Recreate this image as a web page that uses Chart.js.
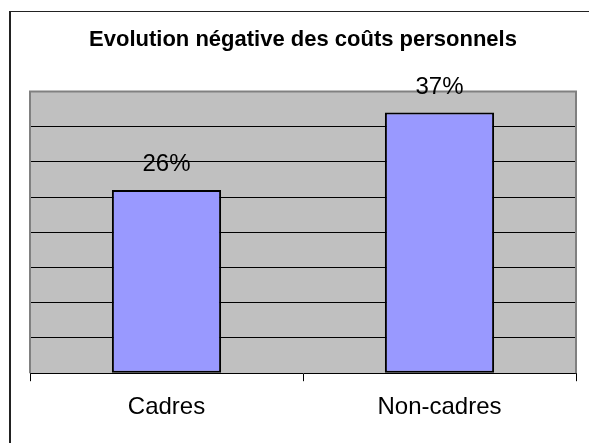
<!DOCTYPE html>
<html>
<head>
<meta charset="utf-8">
<script src="https://cdn.jsdelivr.net/npm/chart.js@4/dist/chart.umd.min.js"></script>
<style>
  html, body { margin: 0; padding: 0; background: #fff; overflow: hidden; }
  #frame { position: absolute; left: 9px; top: 11px; width: 700px; height: 600px;
           border-left: 2px solid #222; border-top: 1px solid #222; }
  #wrap { position: absolute; left: 0; top: 0; width: 589px; height: 443px; }
</style>
</head>
<body>
<div id="frame"></div>
<div id="wrap"><canvas id="chart"></canvas></div>
<script>
const categories = ['Cadres', 'Non-cadres']
const values = [0.26, 0.37]
const yTicks = [0, 0.05, 0.1, 0.15, 0.2, 0.25, 0.3, 0.35, 0.4]

Chart.defaults.font.family = "'Liberation Sans', Arial, sans-serif"
Chart.defaults.color = '#000'

// fond gris de la zone de tracé + bordure grise
const plotArea = {
    id: 'plotArea',
    beforeDraw(chart) {
        const { ctx, chartArea: a } = chart
        ctx.save()
        ctx.fillStyle = '#C0C0C0'
        ctx.fillRect(a.left, a.top, a.right - a.left, a.bottom - a.top)
        ctx.restore()
    },
    afterDraw(chart) {
        const { ctx, chartArea: a } = chart
        ctx.save()
        ctx.strokeStyle = '#808080'
        ctx.lineWidth = 2
        ctx.beginPath()
        ctx.moveTo(a.left, a.bottom)
        ctx.lineTo(a.left, a.top)
        ctx.lineTo(a.right, a.top)
        ctx.lineTo(a.right, a.bottom)
        ctx.stroke()
        ctx.restore()
    }
}

// étiquettes de valeur au-dessus des barres
const valueLabels = {
    id: 'valueLabels',
    afterDraw(chart) {
        const { ctx } = chart
        const meta = chart.getDatasetMeta(0)
        ctx.save()
        ctx.font = "24px 'Liberation Sans', Arial, sans-serif"
        ctx.fillStyle = '#000'
        ctx.textAlign = 'center'
        ctx.textBaseline = 'alphabetic'
        meta.data.forEach((bar, i) => {
            ctx.fillText(Math.round(values[i] * 100) + '%', bar.x, bar.y - 19)
        })
        ctx.restore()
    }
}

new Chart(document.getElementById('chart'), {
    type: 'bar',
    data: {
        labels: categories,
        datasets: [{
            data: values,
            backgroundColor: '#9999FF',
            borderColor: '#000',
            borderWidth: 2,
            borderSkipped: false,
            barPercentage: 0.4,
            categoryPercentage: 1.0
        }]
    },
    options: {
        responsive: true,
        maintainAspectRatio: false,
        animation: false,
        layout: { padding: { left: 30, right: 13, top: 0, bottom: 9 } },
        plugins: {
            legend: { display: false },
            tooltip: { enabled: false },
            title: {
                display: true,
                text: 'Evolution négative des coûts personnels',
                color: '#000',
                font: { size: 22, weight: 'bold' },
                padding: { top: 27, bottom: 38 }
            }
        },
        scales: {
            x: {
                offset: true,
                grid: { offset: true, drawOnChartArea: false, drawTicks: true, tickLength: 8, color: '#000' },
                border: { display: true, color: '#000', width: 1 },
                ticks: { font: { size: 24 }, padding: 12, color: '#000' }
            },
            y: {
                min: yTicks[0],
                max: yTicks[yTicks.length - 1],
                afterBuildTicks: (axis) => { axis.ticks = yTicks.map(v => ({ value: v })) },
                afterFit: (axis) => { axis.width = 0 },
                ticks: { display: false },
                border: { display: false },
                grid: {
                    drawTicks: false,
                    color: (c) => (c.tick && c.tick.value > 0 && c.tick.value < 0.4) ? '#000' : 'rgba(0,0,0,0)',
                    lineWidth: 1
                }
            }
        }
    },
    plugins: [plotArea, valueLabels]
})
</script>
</body>
</html>
